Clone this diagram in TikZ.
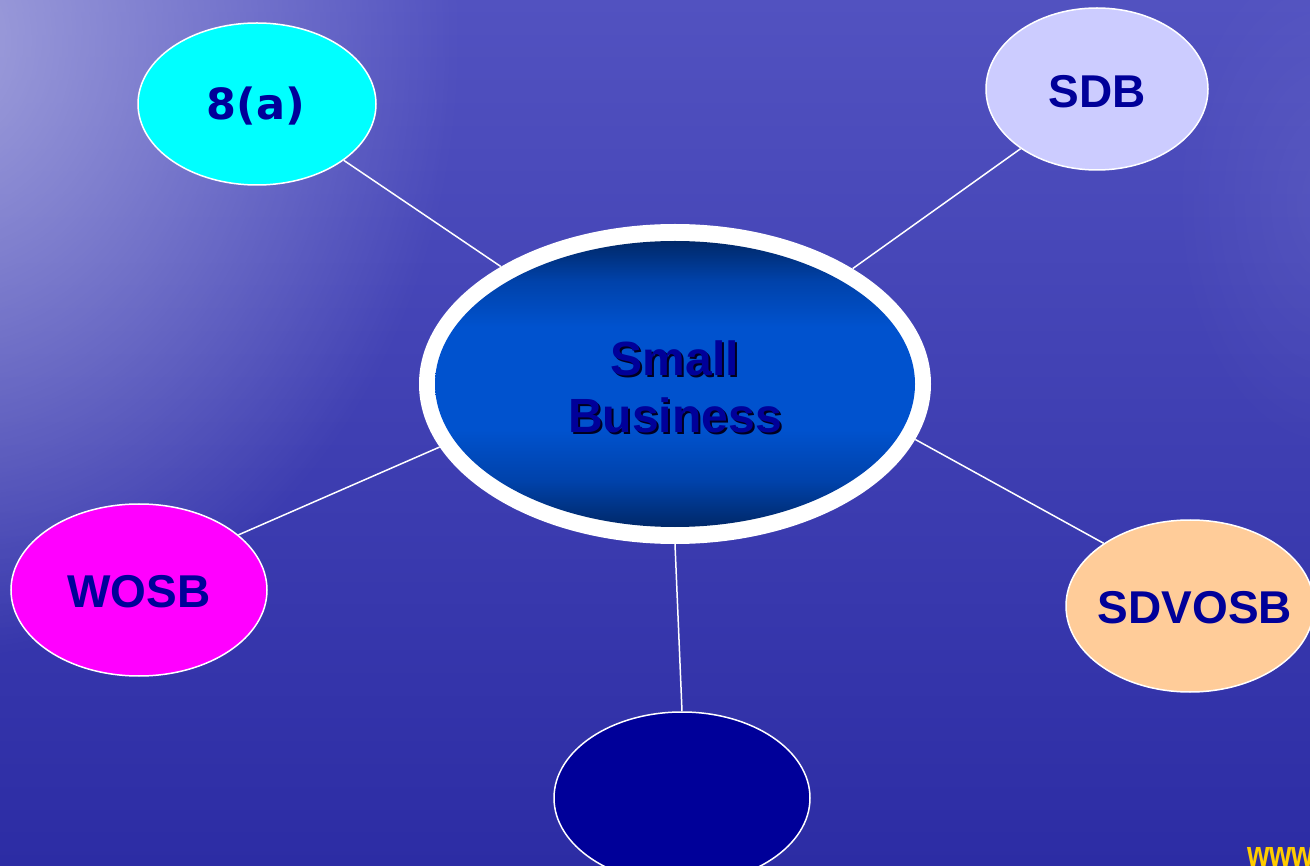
\documentclass[tikz,border=0pt]{standalone}
\usepackage{fontspec}
\setmainfont{Liberation Sans}
\newfontfamily\roundfont{DejaVu Sans}
\usetikzlibrary{shapes.geometric,fadings}
\definecolor{bgtop}{RGB}{82,82,192}
\definecolor{bgmid}{RGB}{50,50,172}
\definecolor{bgbot}{RGB}{44,44,164}
\definecolor{bglight}{RGB}{175,175,225}
\definecolor{navytext}{RGB}{0,0,153}
\definecolor{ctop}{RGB}{0,40,104}
\definecolor{cmidtwo}{RGB}{0,66,170}
\definecolor{cmid}{RGB}{0,82,206}
\definecolor{cyanfill}{RGB}{0,255,255}
\definecolor{lavfill}{RGB}{204,204,255}
\definecolor{magfill}{RGB}{255,0,255}
\definecolor{peachfill}{RGB}{255,204,153}
\definecolor{navyfill}{RGB}{0,0,153}
\definecolor{goldtext}{RGB}{255,204,0}
\tikzfading[name=softglow, inner color=transparent!0, outer color=transparent!100]
\pgfdeclareverticalshading{centreshade}{100bp}{color(0bp)=(ctop); color(25bp)=(ctop); color(33bp)=(cmidtwo); color(42bp)=(cmid); color(60bp)=(cmid); color(68bp)=(cmidtwo); color(75bp)=(ctop); color(100bp)=(ctop)}
\tikzset{
  bubble/.style={ellipse, draw=white, line width=1.5pt, inner sep=0pt},
  bubbletext/.style={text=navytext, inner sep=0pt, font=\fontsize{46}{46}\selectfont\bfseries},
  link/.style={draw=white, line width=1.5pt},
}
\begin{document}
\begin{tikzpicture}[x=1pt,y=-1pt]
\useasboundingbox (0,0) rectangle (1310,866);
\clip (0,0) rectangle (1310,866);
% background
\shade[top color=bgtop, middle color=bgmid, bottom color=bgbot] (0,0) rectangle (1310,866);
\fill[bglight, path fading=softglow, opacity=0.85] (-60,40) ellipse [x radius=520pt, y radius=620pt];
\fill[bglight, path fading=softglow, opacity=0.12] (1330,200) ellipse [x radius=160pt, y radius=260pt];
% centre
\node[ellipse, fill=white, minimum width=512pt, minimum height=320pt, inner sep=0pt] (c) at (675,384) {};
\shade[shading=centreshade] (c.center) ellipse [x radius=240pt, y radius=143pt];
\node[align=center, text=black!80!navytext, font=\fontsize{48}{57}\selectfont\bfseries] (cts) at (677,389) {Small\\Business};
\node[align=center, text=navytext, font=\fontsize{48}{57}\selectfont\bfseries] (ct) at (675,387) {Small\\Business};
% satellites
\node[bubble, fill=cyanfill, minimum width=238pt, minimum height=162pt] (a) at (257,104) {};
\node[bubbletext, font=\roundfont\fontsize{43}{43}\selectfont\bfseries] (at) at (256,106) {8(a)};
\node[bubble, fill=lavfill, minimum width=222pt, minimum height=162pt] (sdb) at (1097,89) {};
\node[bubbletext] (sdbt) at (1097,92) {SDB};
\node[bubble, fill=magfill, minimum width=256pt, minimum height=172pt] (wosb) at (139,590) {};
\node[bubbletext] (wosbt) at (139,592) {WOSB};
\node[bubble, fill=peachfill, minimum width=248pt, minimum height=172pt] (sdv) at (1190,606) {};
\node[bubbletext] (sdvt) at (1195,608) {SDVOSB};
\node[bubble, fill=navyfill, minimum width=256pt, minimum height=172pt] (bot) at (682,798) {};
% connectors
\draw[link] (a.-33) -- (c.146.5);
\draw[link] (sdb.-142.5) -- (c.33.5);
\draw[link] (wosb.29.6) -- (c.-165);
\draw[link] (sdv.144.3) -- (c.-13.9);
\draw[link] (bot.north) -- (c.south);
% footer
\node[anchor=base west, inner sep=0pt, text=goldtext, font=\fontsize{36}{36}\selectfont\bfseries, xscale=0.8] (www) at (1247,866) {www};
\end{tikzpicture}
\end{document}
